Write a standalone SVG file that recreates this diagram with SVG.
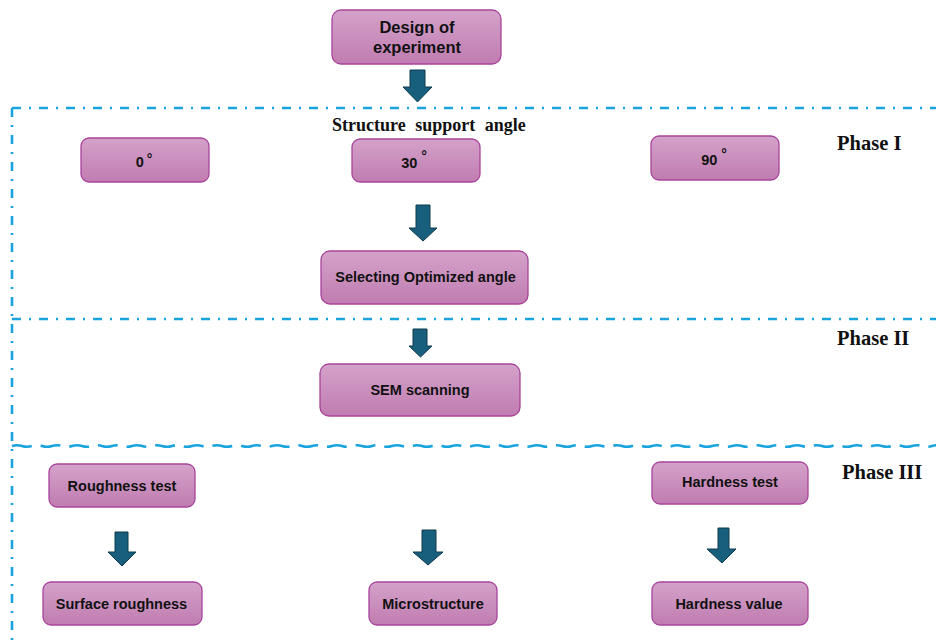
<svg xmlns="http://www.w3.org/2000/svg" width="936" height="641" viewBox="0 0 936 641">
<defs>
<linearGradient id="boxg" x1="0" y1="0" x2="0" y2="1">
<stop offset="0" stop-color="#d4a2ca"/>
<stop offset="1" stop-color="#c07cb0"/>
</linearGradient>
<style>
.box{fill:url(#boxg);stroke:#a8449c;stroke-width:1.3}
.lbl{font-family:"Liberation Sans",Arial,sans-serif;font-weight:bold;font-size:14.5px;fill:#111;text-anchor:middle}
.big{font-size:16.5px}
.deg{font-size:14px}
.phase{font-family:"Liberation Serif","Times New Roman",serif;font-weight:bold;font-size:20.5px;fill:#111}
.arrow{fill:#185f7d;stroke:#0e3a4c;stroke-width:1}
.dd{fill:none;stroke:#1aa3dc;stroke-width:2.6;stroke-dasharray:9 8 2 8}
.wv{fill:none;stroke:#1aa3dc;stroke-width:2.6;stroke-dasharray:20 9}
</style>
</defs>
<rect width="936" height="641" fill="#fff"/>
<g id="phase-lines">
<path class="dd" d="M12,108 H936"/>
<path class="dd" d="M12,108 V641"/>
<path class="dd" d="M12,319 H936"/>
<path class="wv" d="M12,446 q5,-1.6 10,0 t10,0 t10,0 t10,0 t10,0 t10,0 t10,0 t10,0 t10,0 t10,0 t10,0 t10,0 t10,0 t10,0 t10,0 t10,0 t10,0 t10,0 t10,0 t10,0 t10,0 t10,0 t10,0 t10,0 t10,0 t10,0 t10,0 t10,0 t10,0 t10,0 t10,0 t10,0 t10,0 t10,0 t10,0 t10,0 t10,0 t10,0 t10,0 t10,0 t10,0 t10,0 t10,0 t10,0 t10,0 t10,0 t10,0 t10,0 t10,0 t10,0 t10,0 t10,0 t10,0 t10,0 t10,0 t10,0 t10,0 t10,0 t10,0 t10,0 t10,0 t10,0 t10,0 t10,0 t10,0 t10,0 t10,0 t10,0 t10,0 t10,0 t10,0 t10,0 t10,0 t10,0 t10,0 t10,0 t10,0 t10,0 t10,0 t10,0 t10,0 t10,0 t10,0 t10,0 t10,0 t10,0 t10,0 t10,0 t10,0 t10,0 t10,0 t10,0 t10,0 t10,0 t10,0 t10,0 t10,0 t10,0 t10,0 t10,0 t10,0 t10,0 t10,0"/>
</g>
<g id="labels">
<text class="phase" x="837" y="150">Phase I</text>
<text class="phase" x="837" y="345">Phase II</text>
<text class="phase" x="842" y="479">Phase III</text>
<text x="332" y="131" style="font-family:'Liberation Serif','Times New Roman',serif;font-weight:bold;font-size:18px;fill:#111;word-spacing:5px">Structure support angle</text>
</g>
<g id="connectors">
<path class="arrow" d="M410,70 H425 V87 H432 L417.5,102 L403,87 H410 Z"/>
<path class="arrow" d="M416,205 H430 V228 H437 L423,241 L409,228 H416 Z"/>
<path class="arrow" d="M413,329 H427 V346 H432 L420.5,357 L409,346 H413 Z"/>
<path class="arrow" d="M115,532 H128 V552 H136 L122,566 L108,552 H115 Z"/>
<path class="arrow" d="M422,530 H436 V552 H443 L428,565 L413,552 H422 Z"/>
<path class="arrow" d="M718,528 H729 V549 H736 L722,563 L707,549 H718 Z"/>
</g>
<g id="design">
<rect class="box" x="332" y="10" width="169" height="54" rx="9"/>
<text class="lbl big" x="417" y="33">Design of</text>
<text class="lbl big" x="417" y="53">experiment</text>
</g>
<g id="angle0">
<rect class="box" x="81" y="138" width="128" height="44" rx="8"/>
<text class="lbl" x="144" y="167">0<tspan class="deg" dx="3" dy="-3">°</tspan></text>
</g>
<g id="angle30">
<rect class="box" x="352" y="139" width="128" height="43" rx="8"/>
<text class="lbl" x="414" y="168">30<tspan class="deg" dx="4" dy="-7">°</tspan></text>
</g>
<g id="angle90">
<rect class="box" x="651" y="136" width="128" height="44" rx="8"/>
<text class="lbl" x="714" y="165">90<tspan class="deg" dx="4" dy="-6">°</tspan></text>
</g>
<g id="optimized">
<rect class="box" x="321" y="251" width="207" height="53" rx="9"/>
<text class="lbl" x="425.5" y="282">Selecting Optimized angle</text>
</g>
<g id="sem">
<rect class="box" x="320" y="364" width="200" height="52" rx="9"/>
<text class="lbl" x="420" y="395">SEM scanning</text>
</g>
<g id="roughness-test">
<rect class="box" x="49" y="464" width="146" height="43" rx="8"/>
<text class="lbl" x="122" y="491">Roughness test</text>
</g>
<g id="surface-roughness">
<rect class="box" x="43" y="582" width="159" height="43" rx="8"/>
<text class="lbl" x="121.5" y="609">Surface roughness</text>
</g>
<g id="microstructure">
<rect class="box" x="369" y="582" width="128" height="43" rx="8"/>
<text class="lbl" x="433" y="609">Microstructure</text>
</g>
<g id="hardness-test">
<rect class="box" x="652" y="462" width="156" height="42" rx="8"/>
<text class="lbl" x="730" y="487">Hardness test</text>
</g>
<g id="hardness-value">
<rect class="box" x="652" y="582" width="156" height="43" rx="8"/>
<text class="lbl" x="729" y="609">Hardness value</text>
</g>
</svg>
